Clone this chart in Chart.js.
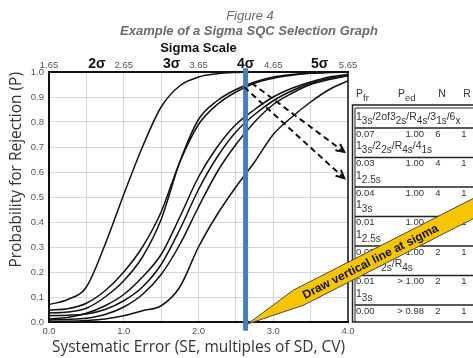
<!DOCTYPE html>
<html>
<head>
<meta charset="utf-8">
<script src="https://cdn.jsdelivr.net/npm/chart.js@4.4.1/dist/chart.umd.min.js"></script>
<style>
  html, body { margin: 0; padding: 0; background: #fff; }
  #wrap { position: relative; width: 473px; height: 358px; }
</style>
</head>
<body>
<div id="wrap"><canvas id="chart" width="473" height="358"></canvas></div>
<script>
// systematic error (multiples of SD) where the curves were read
const seValues = [0, 0.25, 0.5, 0.75, 1.0, 1.25, 1.5, 1.75, 2.0, 2.25, 2.5, 2.75, 3.0, 3.25, 3.5, 3.75, 4.0];

// probability for rejection, one list per QC procedure
const pMultiN6 = [0.07, 0.09, 0.14, 0.31, 0.51, 0.70, 0.86, 0.945, 0.98, 0.993, 0.998, 1, 1, 1, 1, 1, 1];
const p25sN4   = [0.048, 0.053, 0.075, 0.125, 0.20, 0.30, 0.44, 0.64, 0.79, 0.87, 0.92, 0.955, 0.975, 0.987, 0.995, 0.998, 1.0];
const pMultiN4 = [0.036, 0.04, 0.055, 0.10, 0.165, 0.26, 0.41, 0.64, 0.81, 0.885, 0.93, 0.96, 0.98, 0.99, 0.996, 0.999, 1.0];
const p3sN4    = [0.012, 0.018, 0.035, 0.065, 0.11, 0.18, 0.27, 0.42, 0.58, 0.70, 0.79, 0.85, 0.90, 0.935, 0.96, 0.98, 0.99];
const p25sN2   = [0.025, 0.027, 0.032, 0.05, 0.085, 0.14, 0.23, 0.37, 0.53, 0.66, 0.76, 0.83, 0.885, 0.925, 0.955, 0.975, 0.985];
const pMultiN2 = [0.008, 0.01, 0.015, 0.03, 0.06, 0.11, 0.19, 0.31, 0.46, 0.60, 0.71, 0.80, 0.87, 0.915, 0.95, 0.97, 0.985];
const p3sN2    = [0.002, 0.003, 0.006, 0.012, 0.025, 0.045, 0.065, 0.14, 0.30, 0.43, 0.54, 0.64, 0.75, 0.82, 0.88, 0.93, 0.965];

// vertical line drawn at the sigma of the method (in SE units)
const blueLineSE = 2.63;
const blueLineP = [-0.035, 1.015];

// dashed arrows from the line to the table
const arrowUpper = [{ x: 2.71, y: 0.956 }, { x: 3.95, y: 0.68 }];
const arrowLower = [{ x: 2.61, y: 0.94 }, { x: 3.95, y: 0.575 }];

// sigma scale on top
const sigmaTickValues = [0, 0.64, 1, 1.64, 2, 2.63, 3, 3.62, 4];
const sigmaTickLabels = ['1.65', '2σ', '2.65', '3σ', '3.65', '4σ', '4.65', '5σ', '5.65'];

// table on the right
const tableRules = ['1_{3s}/2of3_{2s}/R_{4s}/3_{1s}/6_{x}', '1_{3s}/2_{2s}/R_{4s}/4_{1s}', '1_{2.5s}', '1_{3s}',
                    '1_{2.5s}', '1_{3s}/2_{2s}/R_{4s}', '1_{3s}'];
const tablePfr = ['0.07', '0.03', '0.04', '0.01', '0.03', '0.01', '0.00'];
const tablePed = ['1.00', '1.00', '1.00', '1.00', '1.00', '> 1.00', '> 0.98'];
const tableN = ['6', '4', '4', '4', '2', '2', '2'];
const tableR = ['1', '1', '1', '1', '1', '1', '1'];

const tickFont = "'Liberation Sans', Arial, sans-serif";
const labelFont = "'Open Sans', sans-serif";

const toPoints = (arr) => seValues.map((x, i) => ({ x, y: arr[i] }));
const curveLists = [pMultiN6, p25sN4, pMultiN4, p3sN4, p25sN2, pMultiN2, p3sN2];

// text with subscripts written as _{..}
function drawSubText(ctx, str, x, y, size, subSize, subDrop) {
    const parts = str.split(/(_\{[^}]*\})/).filter(Boolean);
    let cx = x;
    parts.forEach(p => {
        const sub = p.startsWith('_{');
        const t = sub ? p.slice(2, -1) : p;
        ctx.font = `${sub ? subSize : size}px ${tickFont}`;
        ctx.fillText(t, cx, sub ? y + subDrop : y);
        cx += ctx.measureText(t).width;
    });
}

const extrasPlugin = {
    id: 'extras',
    beforeDatasetsDraw(chart) {
        const { ctx, chartArea } = chart;
        ctx.save();
        ctx.strokeStyle = '#111';
        ctx.lineWidth = 1.5;
        ctx.beginPath();
        ctx.moveTo(chartArea.right, chartArea.top);
        ctx.lineTo(chartArea.right, chartArea.bottom + 1);
        ctx.stroke();
        ctx.restore();
    },
    afterDatasetsDraw(chart) {
        // arrow heads at the end of the dashed lines
        const { ctx } = chart;
        [0, 1].forEach(i => {
            const pts = chart.getDatasetMeta(i).data;
            const a = pts[pts.length - 2], b = pts[pts.length - 1];
            const ang = Math.atan2(b.y - a.y, b.x - a.x);
            ctx.save();
            ctx.strokeStyle = '#111';
            ctx.lineWidth = 2;
            ctx.beginPath();
            ctx.moveTo(b.x - 9 * Math.cos(ang - 0.45), b.y - 9 * Math.sin(ang - 0.45));
            ctx.lineTo(b.x, b.y);
            ctx.lineTo(b.x - 9 * Math.cos(ang + 0.45), b.y - 9 * Math.sin(ang + 0.45));
            ctx.stroke();
            ctx.restore();
        });
    },
    afterDraw(chart) {
        const { ctx, chartArea, scales } = chart;
        ctx.save();
        // titles
        ctx.textAlign = 'center';
        ctx.textBaseline = 'middle';
        ctx.fillStyle = '#6b6b6b';
        ctx.font = `italic 13px ${tickFont}`;
        ctx.fillText('Figure 4', 250, 16);
        ctx.font = `italic bold 13px ${tickFont}`;
        ctx.fillText('Example of a Sigma SQC Selection Graph', 249, 31);
        ctx.fillStyle = '#111';
        ctx.font = `bold 13px ${tickFont}`;
        ctx.fillText('Sigma Scale', (chartArea.left + chartArea.right) / 2, 48);

        // table
        const tx = chartArea.right + 4;
        ctx.strokeStyle = '#222';
        ctx.lineWidth = 1.5;
        ctx.strokeRect(tx + 0.5, 105, 140, chartArea.bottom - 105);
        ctx.lineWidth = 1;
        ctx.beginPath();
        ctx.moveTo(tx + 3, 108); ctx.lineTo(473, 108);
        ctx.moveTo(tx + 3, 108); ctx.lineTo(tx + 3, chartArea.bottom);
        ctx.stroke();

        ctx.fillStyle = '#333';
        ctx.textAlign = 'left';
        drawSubText(ctx, 'P_{fr}', 356, 94, 10.5, 9.5, 4);
        drawSubText(ctx, 'P_{ed}', 398, 94, 10.5, 9.5, 4);
        ctx.textAlign = 'center';
        ctx.font = `10.5px ${tickFont}`;
        ctx.fillText('N', 442, 94);
        ctx.fillText('R', 467, 94);

        const pitch = 29.5;
        tableRules.forEach((rule, k) => {
            const y0 = 118 + pitch * k;
            ctx.textAlign = 'left';
            ctx.fillStyle = '#333';
            drawSubText(ctx, rule, 356, y0 - 1, 10.5, 10, 4);
            ctx.strokeStyle = '#222';
            ctx.lineWidth = 1.5;
            ctx.beginPath();
            ctx.moveTo(tx + 3, y0 + 10);
            ctx.lineTo(473, y0 + 10);
            ctx.stroke();
            ctx.font = `9.5px ${tickFont}`;
            const yv = y0 + 16;
            ctx.fillText(tablePfr[k], 356, yv);
            ctx.textAlign = 'right';
            ctx.fillText(tablePed[k], 424, yv);
            ctx.textAlign = 'center';
            ctx.fillText(tableN[k], 438, yv);
            ctx.fillText(tableR[k], 464, yv);
        });

        // yellow call-out pointing at the foot of the blue line
        const px = scales.x.getPixelForValue(blueLineSE) + 2;
        const py = scales.y.getPixelForValue(0) + 2;
        const ang = -27 * Math.PI / 180;
        const ux = Math.cos(ang), uy = Math.sin(ang);
        const nx = -uy, ny = ux;
        const bx = px + 46, by = py - 34;
        const half = 18, len = 260;
        ctx.beginPath();
        ctx.moveTo(px, py);
        ctx.lineTo(bx, by);
        ctx.lineTo(bx + ux * len, by + uy * len);
        ctx.lineTo(bx + ux * len + nx * half, by + uy * len + ny * half);
        ctx.lineTo(bx + nx * half + ux * 2, by + ny * half + uy * 2);
        ctx.closePath();
        ctx.fillStyle = '#f6c500';
        ctx.fill();
        ctx.strokeStyle = '#4a4a4a';
        ctx.lineWidth = 1;
        ctx.stroke();

        ctx.translate(bx + nx * half / 2 + ux * 6, by + ny * half / 2 + uy * 6);
        ctx.rotate(ang);
        ctx.fillStyle = '#111';
        ctx.textAlign = 'left';
        ctx.textBaseline = 'middle';
        ctx.font = `bold 12px ${tickFont}`;
        ctx.fillText('Draw vertical line at sigma', 0, 1);
        ctx.restore();
    }
};

const curveStyle = {
    showLine: true,
    borderColor: '#111',
    borderWidth: 1.5,
    pointRadius: 0,
    cubicInterpolationMode: 'monotone',
};

new Chart(document.getElementById('chart'), {
    type: 'scatter',
    data: {
        datasets: [
            { data: arrowUpper, showLine: true, borderColor: '#111', borderWidth: 2, borderDash: [6, 4], pointRadius: 0, clip: false },
            { data: arrowLower, showLine: true, borderColor: '#111', borderWidth: 2, borderDash: [6, 4], pointRadius: 0, clip: false },
            { data: blueLineP.map(y => ({ x: blueLineSE, y })), showLine: true, borderColor: '#4a7ebb', borderWidth: 5, pointRadius: 0, clip: false },
            ...curveLists.map(arr => ({ data: toPoints(arr), ...curveStyle })),
        ],
    },
    options: {
        responsive: false,
        animation: false,
        layout: { padding: { left: 0, right: 125, top: 0, bottom: 0 } },
        plugins: { legend: { display: false }, tooltip: { enabled: false } },
        scales: {
            x: {
                type: 'linear', position: 'bottom', min: 0, max: 4,
                afterFit: s => { s.height = 36; },
                grid: { color: '#d6d6d6', drawTicks: false },
                border: { color: '#111', width: 2 },
                ticks: {
                    stepSize: 0.5, autoSkip: false, padding: 4, color: '#555',
                    font: { family: tickFont, size: 9.5 },
                    callback: v => Number.isInteger(v) ? v.toFixed(1) : '',
                },
                title: {
                    display: true, text: 'Systematic Error (SE, multiples of SD, CV)', color: '#333',
                    font: { family: labelFont, size: 15.5, lineHeight: 1.1 }, padding: { top: 0, bottom: 2 },
                },
            },
            x2: {
                type: 'linear', position: 'top', min: 0, max: 4,
                afterFit: s => { s.height = 72; },
                afterBuildTicks: s => { s.ticks = sigmaTickValues.map(value => ({ value })); },
                grid: { display: false, drawTicks: false },
                border: { color: '#111', width: 2 },
                ticks: {
                    autoSkip: false, padding: 1, maxRotation: 0,
                    color: ctx => ctx.index % 2 ? '#111' : '#555',
                    font: ctx => ctx.index % 2
                        ? { family: tickFont, size: 14, weight: 'bold', lineHeight: 1.0 }
                        : { family: tickFont, size: 9.5, lineHeight: 1.2 },
                    callback: (v, i) => sigmaTickLabels[i],
                },
            },
            y: {
                type: 'linear', min: 0, max: 1,
                afterFit: s => { s.width = 49; },
                grid: { color: '#d6d6d6', drawTicks: false },
                border: { color: '#111', width: 2 },
                ticks: {
                    stepSize: 0.1, padding: 5, color: '#555',
                    font: { family: tickFont, size: 9.5 },
                    callback: v => Number(v).toFixed(1),
                },
                title: {
                    display: true, text: 'Probability for Rejection (P)', color: '#333', align: 'end',
                    font: { family: labelFont, size: 15.5, lineHeight: 1.1 }, padding: { top: 8, bottom: 0 },
                },
            },
        },
    },
    plugins: [extrasPlugin],
});
</script>
</body>
</html>
